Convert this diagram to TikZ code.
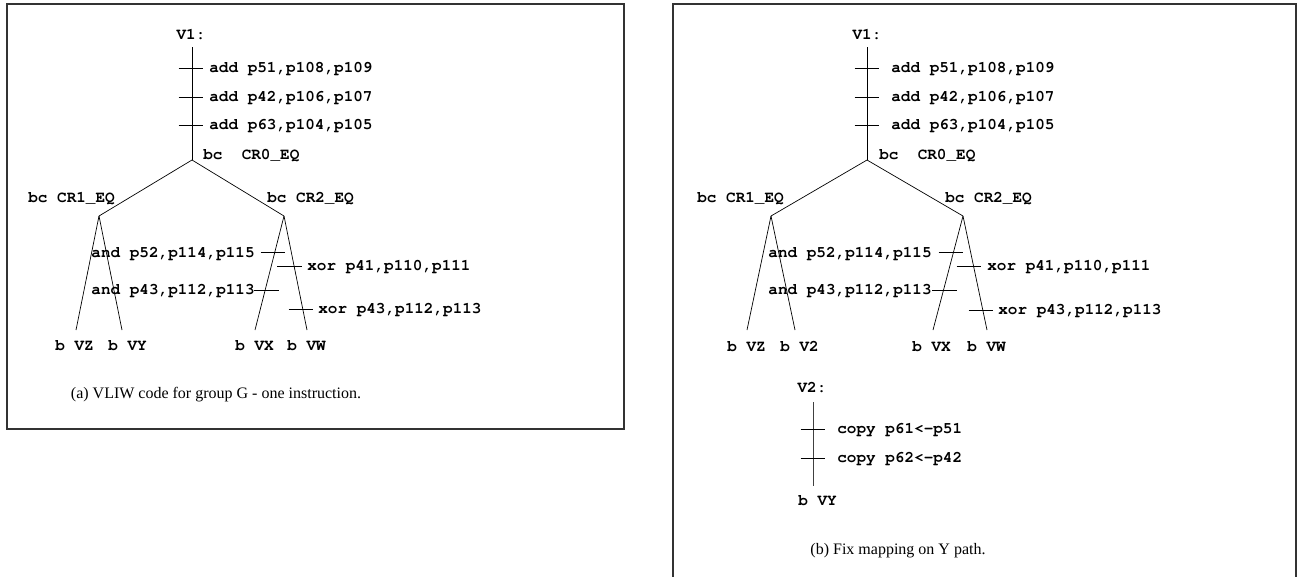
\documentclass[tikz,border=0pt]{standalone}
\usepackage{fontspec}
\newfontfamily\capfont{Liberation Serif}
\newcommand\codefont{\fontencoding{T1}\fontfamily{pcr}\bfseries}
\tikzset{
  code/.style={font=\codefont\fontsize{16}{18}\selectfont, inner sep=0pt, text height=11pt, text depth=3pt},
  caption/.style={font=\capfont\fontsize{16}{18}\selectfont, inner sep=0pt},
  tick/.style={inner sep=0pt, minimum width=24pt, minimum height=0pt},
  frame/.style={draw=black!80, line width=1.5pt}
}
\begin{document}
\begin{tikzpicture}[x=1pt,y=-1pt,line width=0.7pt]
  \useasboundingbox (0,0) rectangle (1297,576);
  \draw[frame] (7,4) rectangle (624,429);
  \draw[frame] (673,600) -- (673,4) -- (1296,4) -- (1296,600);

  \node[code] (av1) at (191,35) {V1:};
  \coordinate (ar) at (192,47);
  \coordinate (a0) at (192,160);
  \coordinate (a1) at (99,216);
  \coordinate (a2) at (284,216);
  \coordinate (az) at (76,330);
  \coordinate (ay) at (122,330);
  \coordinate (ax) at (255,330);
  \coordinate (aw) at (307,330);
  \draw (ar) -- (a0);
  \draw (a0) -- (a1);
  \draw (a0) -- (a2);
  \draw (a1) -- (az);
  \draw (a1) -- (ay);
  \draw (a2) -- (ax);
  \draw (a2) -- (aw);
  \node[tick] (at1) at (191,68) {};
  \node[tick] (at2) at (191,97) {};
  \node[tick] (at3) at (191,125) {};
  \node[tick] (at4) at (273,252) {};
  \node[tick] (at5) at (289.5,266) {};
  \node[tick] (at6) at (266.5,290) {};
  \node[tick] (at7) at (301,309) {};
  \foreach \t in {at1,at2,at3,at4,at5,at6,at7}
    \draw (\t.west) -- (\t.east);
  \node[code,anchor=west] (aadd1) at (209,68) {add p51,p108,p109};
  \node[code,anchor=west] (aadd2) at (209,97) {add p42,p106,p107};
  \node[code,anchor=west] (aadd3) at (209,125) {add p63,p104,p105};
  \node[code,anchor=west] (abc0) at (203,155) {bc\ \ CR0\_EQ};
  \node[code,anchor=west] (abc1) at (28,198) {bc CR1\_EQ};
  \node[code,anchor=west] (abc2) at (267,198) {bc CR2\_EQ};
  \node[code,anchor=east] (aand1) at (255,253) {and p52,p114,p115};
  \node[code,anchor=west] (axor1) at (307,266) {xor p41,p110,p111};
  \node[code,anchor=east] (aand2) at (255,290) {and p43,p112,p113};
  \node[code,anchor=west] (axor2) at (318,309) {xor p43,p112,p113};
  \node[code,anchor=west] (abz) at (55,346) {b VZ};
  \node[code,anchor=west] (aby) at (108,346) {b VY};
  \node[code,anchor=west] (abx) at (235,346) {b VX};
  \node[code,anchor=west] (abw) at (287,346) {b VW};
  \node[caption] (acap) at (216,395) {(a) VLIW code for group G - one instruction.};

  \node[code] (bv1) at (867,35) {V1:};
  \coordinate (br) at (867,47);
  \coordinate (b0) at (867,160);
  \coordinate (b1) at (771,216);
  \coordinate (b2) at (963,216);
  \coordinate (bz) at (747,330);
  \coordinate (by) at (795,330);
  \coordinate (bx) at (933,330);
  \coordinate (bw) at (987,330);
  \draw (br) -- (b0);
  \draw (b0) -- (b1);
  \draw (b0) -- (b2);
  \draw (b1) -- (bz);
  \draw (b1) -- (by);
  \draw (b2) -- (bx);
  \draw (b2) -- (bw);
  \node[tick] (bt1) at (867,68) {};
  \node[tick] (bt2) at (867,97) {};
  \node[tick] (bt3) at (867,125) {};
  \node[tick] (bt4) at (951,252) {};
  \node[tick] (bt5) at (969,266) {};
  \node[tick] (bt6) at (944.5,290) {};
  \node[tick] (bt7) at (981,310) {};
  \foreach \t in {bt1,bt2,bt3,bt4,bt5,bt6,bt7}
    \draw (\t.west) -- (\t.east);
  \node[code,anchor=west] (badd1) at (891,68) {add p51,p108,p109};
  \node[code,anchor=west] (badd2) at (891,97) {add p42,p106,p107};
  \node[code,anchor=west] (badd3) at (891,125) {add p63,p104,p105};
  \node[code,anchor=west] (bbc0) at (879,155) {bc\ \ CR0\_EQ};
  \node[code,anchor=west] (bbc1) at (697,198) {bc CR1\_EQ};
  \node[code,anchor=west] (bbc2) at (945,198) {bc CR2\_EQ};
  \node[code,anchor=east] (band1) at (932,253) {and p52,p114,p115};
  \node[code,anchor=west] (bxor1) at (987,266) {xor p41,p110,p111};
  \node[code,anchor=east] (band2) at (932,290) {and p43,p112,p113};
  \node[code,anchor=west] (bxor2) at (998,310) {xor p43,p112,p113};
  \node[code,anchor=west] (bbz) at (727,347) {b VZ};
  \node[code,anchor=west] (bb2) at (780,347) {b V2};
  \node[code,anchor=west] (bbx) at (912,347) {b VX};
  \node[code,anchor=west] (bbw) at (967,347) {b VW};

  \node[code] (bv2) at (812,388) {V2:};
  \coordinate (cr) at (813,402);
  \coordinate (ce) at (813,486);
  \draw[black!75, line width=1pt] (cr) -- (ce);
  \node[tick] (ct1) at (813,429) {};
  \node[tick] (ct2) at (813,458) {};
  \draw (ct1.west) -- (ct1.east);
  \draw (ct2.west) -- (ct2.east);
  \node[code,anchor=west] (ccp1) at (837,429) {copy p61<-p51};
  \node[code,anchor=west] (ccp2) at (837,458) {copy p62<-p42};
  \node[code,anchor=west] (cby) at (798,501) {b VY};
  \node[caption] (bcap) at (898,551) {(b) Fix mapping on Y path.};
\end{tikzpicture}
\end{document}
